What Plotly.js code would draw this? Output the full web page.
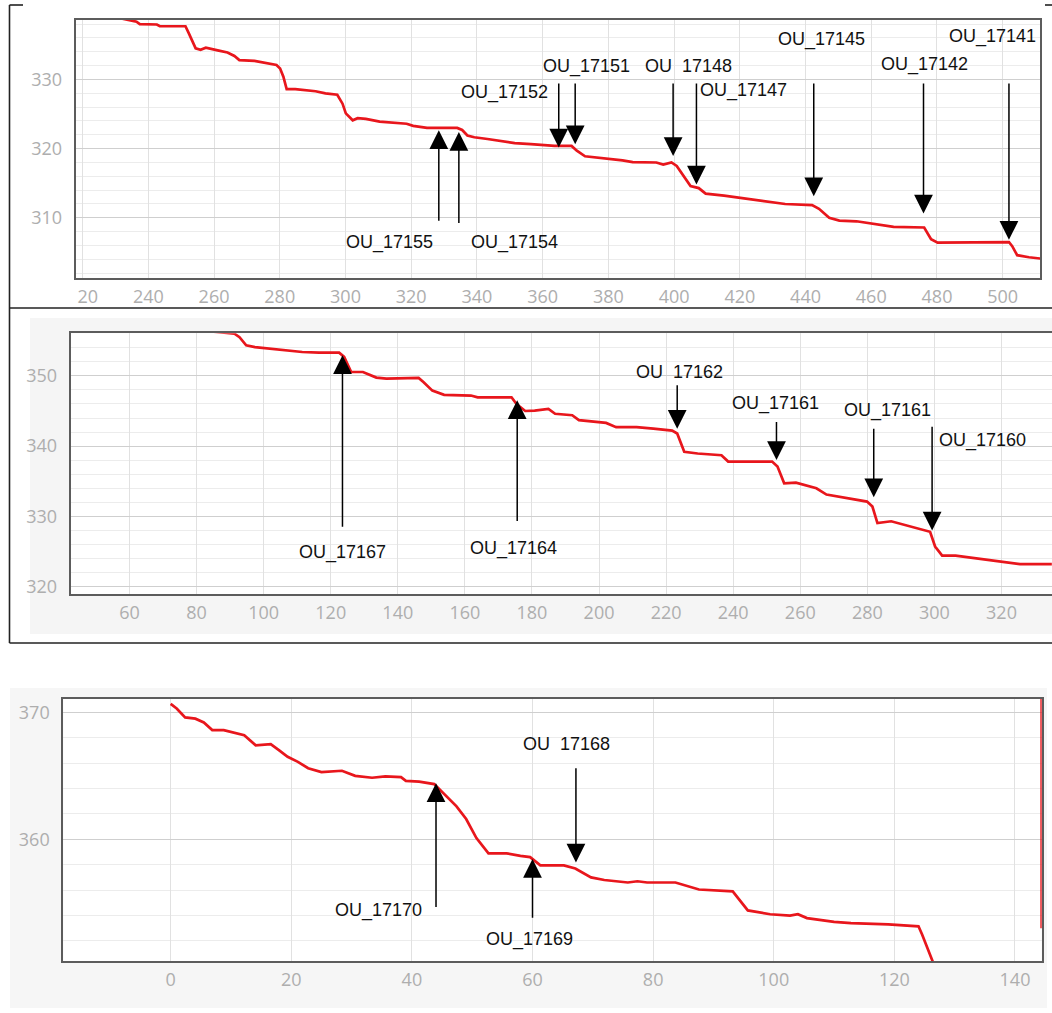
<!DOCTYPE html>
<html>
<head>
<meta charset="utf-8">
<script src="https://cdn.plot.ly/plotly-3.0.1.min.js"></script>
<style>html,body{margin:0;padding:0;background:#fff;}#chart{width:1052px;height:1013px;}</style>
</head>
<body>
<div id="chart"></div>
<script>
// ---------- Panel 1 (top) ----------
const p1X = [230.0, 236.4, 237.4, 242.6, 243.5, 251.3, 252.3, 254.4, 255.9, 257.5, 261.1, 264.1, 266.2, 267.7, 272.3, 276.4, 279.0, 280.1, 281.1, 282.1, 284.7, 290.9, 293.9, 297.5, 298.0, 299.1, 300.1, 302.2, 303.7, 306.2, 310.4, 314.5, 318.6, 320.6, 324.8, 334.0, 335.5, 337.1, 339.2, 343.2, 347.4, 351.5, 356.4, 363.6, 368.8, 370.4, 372.9, 377.0, 384.3, 387.4, 394.6, 396.7, 399.2, 400.8, 402.9, 405.0, 407.5, 409.6, 415.2, 425.5, 433.8, 442.0, 444.1, 447.2, 450.3, 455.5, 460.6, 466.8, 476.1, 478.2, 480.2, 487.4, 501.9, 502.9, 504.4, 508.0, 511.7];
const p1Y = [339.0, 338.36, 338.0, 337.95, 337.7, 337.7, 336.7, 334.5, 334.3, 334.6, 334.2, 333.9, 333.4, 332.8, 332.7, 332.3, 332.1, 331.6, 330.4, 328.6, 328.6, 328.3, 328.0, 327.8, 327.4, 326.5, 325.1, 324.1, 324.4, 324.3, 323.9, 323.8, 323.6, 323.3, 323.0, 323.0, 322.7, 321.9, 321.65, 321.4, 321.1, 320.8, 320.65, 320.4, 320.4, 319.7, 318.9, 318.7, 318.3, 318.05, 318.0, 317.7, 318.0, 317.5, 316.0, 314.6, 314.3, 313.5, 313.2, 312.5, 312.0, 311.85, 311.3, 310.0, 309.6, 309.5, 309.1, 308.7, 308.6, 306.9, 306.4, 306.4, 306.5, 305.9, 304.6, 304.3, 304.1];
const p1Labels = ["OU_17155", "OU_17154", "OU_17152", "OU_17151", "OU\u00a0\u00a017148", "OU_17147", "OU_17145", "OU_17142", "OU_17141"];
const p1ArrowX = [328.4, 334.5, 364.9, 369.9, 399.7, 406.8, 442.5, 475.9, 501.9];
const p1ArrowTip = [322.66, 322.42, 320.16, 320.63, 318.94, 314.83, 313.12, 310.62, 306.82];
const p1ArrowTail = [309.36, 309.05, 329.64, 329.64, 329.64, 329.64, 329.64, 329.64, 329.64];
const p1TextX = [313.5, 351.5, 348.3, 373.4, 404.4, 421.0, 444.9, 476.1, 496.8];
const p1TextY = [306.4, 306.4, 328.16, 331.9, 331.9, 328.4, 335.78, 332.14, 336.17];

// ---------- Panel 2 (middle) ----------
const p2X = [85.0, 91.3, 92.8, 94.8, 97.4, 101.4, 106.4, 111.5, 116.5, 122.5, 124.0, 126.1, 129.6, 133.6, 136.6, 141.7, 146.2, 147.7, 150.3, 153.8, 161.8, 163.8, 173.9, 175.4, 178.0, 180.8, 184.9, 186.9, 192.0, 194.0, 202.1, 205.1, 211.2, 216.2, 221.8, 223.3, 225.4, 229.4, 236.5, 238.5, 251.6, 253.2, 255.2, 258.7, 264.8, 267.8, 276.9, 279.9, 281.5, 283.0, 287.1, 295.2, 298.7, 300.2, 302.3, 306.3, 317.4, 325.5, 335.0];
const p2Y = [356.3, 356.0, 355.5, 354.35, 354.1, 353.9, 353.65, 353.4, 353.3, 353.3, 352.7, 350.55, 350.55, 349.75, 349.6, 349.6, 349.7, 349.1, 347.9, 347.3, 347.2, 346.95, 346.95, 345.97, 345.0, 345.06, 345.3, 344.6, 344.4, 343.7, 343.3, 342.7, 342.7, 342.5, 342.2, 341.8, 339.2, 338.95, 338.7, 337.8, 337.8, 337.1, 334.7, 334.8, 334.0, 333.1, 332.4, 332.1, 331.4, 329.04, 329.3, 328.3, 327.8, 325.7, 324.4, 324.4, 323.7, 323.2, 323.2];
const p2Labels = ["OU_17167", "OU_17164", "OU\u00a0\u00a017162", "OU_17161", "OU_17161", "OU_17160"];
const p2ArrowX = [123.5, 175.6, 223.3, 252.9, 281.9, 299.3];
const p2ArrowTip = [352.92, 346.54, 342.46, 338.03, 332.72, 327.99];
const p2ArrowTail = [328.32, 329.14, 348.86, 343.66, 342.68, 342.96];
const p2TextX = [123.5, 174.5, 224.1, 252.7, 286.1, 314.4];
const p2TextY = [324.92, 325.48, 350.61, 346.04, 345.06, 340.79];

// ---------- Panel 3 (bottom) ----------
const p3X = [0, 1.0, 2.4, 4.1, 5.5, 6.9, 8.8, 11.1, 12.2, 14.1, 16.6, 18.0, 19.4, 21.1, 22.8, 25.0, 28.4, 30.6, 33.4, 35.6, 38.2, 39.0, 41.2, 43.7, 45.1, 47.4, 49.0, 50.7, 52.7, 55.7, 58.0, 59.6, 61.3, 65.2, 67.1, 69.7, 71.9, 75.8, 77.4, 79.0, 83.7, 87.6, 93.2, 95.7, 99.4, 102.7, 104.0, 105.5, 110.0, 112.8, 119.0, 124.0, 124.6, 126.3, 127.5];
const p3Y = [370.66, 370.3, 369.6, 369.5, 369.2, 368.6, 368.6, 368.3, 368.2, 367.4, 367.5, 367.0, 366.5, 366.1, 365.6, 365.3, 365.4, 365.0, 364.85, 364.95, 364.9, 364.6, 364.55, 364.35, 363.7, 362.6, 361.6, 360.1, 358.9, 358.9, 358.7, 358.6, 357.95, 357.95, 357.7, 357.0, 356.8, 356.6, 356.7, 356.6, 356.6, 356.05, 355.9, 354.4, 354.1, 354.0, 354.1, 353.8, 353.5, 353.4, 353.3, 353.15, 352.5, 350.5, 349.0];
const p3EdgeX = [144.4, 144.4];
const p3EdgeY = [371.5, 353.0];
const p3Labels = ["OU_17170", "OU_17169", "OU\u00a0\u00a017168"];
const p3ArrowX = [44.0, 60.0, 67.2];
const p3ArrowTip = [364.41, 358.45, 358.18];
const p3ArrowTail = [354.56, 353.71, 365.71];
const p3TextX = [34.5, 59.5, 65.7];
const p3TextY = [354.43, 352.13, 367.54];

// ---------- helpers ----------
const W = 1052, H = 1013;
const fx = p => p / W;
const fy = p => 1 - p / H;
const RED = '#e8161c';
const tickFont = {family: 'Open Sans, DejaVu Sans, sans-serif', size: 18, color: '#aeaeae'};
const annFont = {family: 'Liberation Sans, Arial, sans-serif', size: 18, color: '#111'};

function xAxis(dom, range, anchor, mirror) {
  return {
    domain: dom, range: range, anchor: anchor, dtick: 20, tick0: 0,
    showgrid: true, gridcolor: '#e1e1e1', gridwidth: 1, zeroline: false,
    showline: true, linecolor: '#5c5c5c', linewidth: 2, mirror: mirror,
    ticks: '', tickfont: tickFont, ticklabelstandoff: 1, fixedrange: true
  };
}
function yAxis(dom, range, anchor, mirror) {
  return {
    domain: dom, range: range, anchor: anchor, dtick: 10, tick0: 0,
    showgrid: true, gridcolor: '#cfcfcf', gridwidth: 1, zeroline: false,
    minor: {dtick: 2, showgrid: true, gridcolor: '#ececec', gridwidth: 1},
    showline: true, linecolor: '#5c5c5c', linewidth: 2, mirror: mirror,
    ticks: '', tickfont: tickFont, ticklabelstandoff: 8, fixedrange: true
  };
}

const lineStyle = {color: RED, width: 2.7, shape: 'linear'};
const traces = [
  {x: p1X, y: p1Y, xaxis: 'x', yaxis: 'y', type: 'scatter', mode: 'lines', line: lineStyle, hoverinfo: 'skip'},
  {x: p2X, y: p2Y, xaxis: 'x2', yaxis: 'y2', type: 'scatter', mode: 'lines', line: lineStyle, hoverinfo: 'skip'},
  {x: p3X, y: p3Y, xaxis: 'x3', yaxis: 'y3', type: 'scatter', mode: 'lines', line: lineStyle, hoverinfo: 'skip'}
];

const annotations = [];
function addAnns(labels, ax, tip, tail, tx, ty, xr, yr) {
  for (let i = 0; i < labels.length; i++) {
    annotations.push({
      xref: xr, yref: yr, axref: xr, ayref: yr,
      x: ax[i], y: tip[i], ax: ax[i], ay: tail[i],
      text: '', showarrow: true, arrowhead: 2, arrowsize: 2.5, arrowwidth: 1.5,
      arrowcolor: '#000', standoff: 0, startstandoff: 0
    });
    annotations.push({
      xref: xr, yref: yr, x: tx[i], y: ty[i], text: labels[i], showarrow: false,
      font: annFont, xanchor: 'center', yanchor: 'middle'
    });
  }
}
addAnns(p1Labels, p1ArrowX, p1ArrowTip, p1ArrowTail, p1TextX, p1TextY, 'x', 'y');
addAnns(p2Labels, p2ArrowX, p2ArrowTip, p2ArrowTail, p2TextX, p2TextY, 'x2', 'y2');
addAnns(p3Labels, p3ArrowX, p3ArrowTip, p3ArrowTail, p3TextX, p3TextY, 'x3', 'y3');

function pline(x0, y0, x1, y1, w, c) {
  return {type: 'line', xref: 'paper', yref: 'paper', x0: fx(x0), y0: fy(y0), x1: fx(x1), y1: fy(y1),
          line: {color: c || '#222', width: w || 1.5}, layer: 'above'};
}
function prect(x0, y0, x1, y1, fill, layer) {
  return {type: 'rect', xref: 'paper', yref: 'paper', x0: fx(x0), y0: fy(y0), x1: fx(x1), y1: fy(y1),
          line: {width: 0}, fillcolor: fill, layer: layer || 'below'};
}

const P1 = {x0: 75.7, x1: 1040, y0: 20, y1: 278};
const P2 = {x0: 70.7, x1: 1052, y0: 333.3, y1: 594.3};
const P3 = {x0: 63.3, x1: 1041.7, y0: 699, y1: 961};

const shapes = [
  prect(30, 318, 1052, 634, '#f5f5f5'),
  prect(10, 688, 1047, 1008, '#f6f6f6'),
  prect(P1.x0, P1.y0, P1.x1, P1.y1, '#ffffff'),
  prect(P2.x0, P2.y0, P2.x1, P2.y1, '#ffffff'),
  prect(P3.x0, P3.y0, P3.x1, P3.y1, '#ffffff'),
  // hide the clipped first digit of the first tick label in the top panel
  prect(12, 284, 77, 303, '#ffffff', 'above'),
  // outer frames
  pline(9.5, 5, 9.5, 643, 1.6),
  pline(9.5, 5, 23, 5, 1.6),
  pline(1045, 5, 1052, 5, 1.6),
  pline(9.5, 308, 1052, 308, 1.6),
  pline(9.5, 643, 1052, 643, 1.6),
  // vertical red segment at the right edge of the bottom panel (from data arrays)
  {type: 'line', xref: 'x3', yref: 'y3', x0: p3EdgeX[0], y0: p3EdgeY[0], x1: p3EdgeX[1], y1: p3EdgeY[1],
   line: {color: RED, width: 2.4}, layer: 'above'}
];

const layout = {
  width: W, height: H,
  margin: {l: 0, r: 0, t: 0, b: 0},
  paper_bgcolor: '#ffffff', plot_bgcolor: 'rgba(0,0,0,0)',
  showlegend: false,
  xaxis: xAxis([fx(P1.x0), fx(P1.x1)], [217.9, 511.35], 'y', true),
  yaxis: yAxis([fy(P1.y1), fy(P1.y0)], [301.3, 338.6], 'x', true),
  xaxis2: xAxis([fx(P2.x0), 1], [42.47, 335.05], 'y2', true),
  yaxis2: yAxis([fy(P2.y1), fy(P2.y0)], [318.9, 356.06], 'x2', false),
  xaxis3: xAxis([fx(P3.x0), fx(P3.x1)], [-17.8, 144.43], 'y3', true),
  yaxis3: yAxis([fy(P3.y1), fy(P3.y0)], [350.42, 371.05], 'x3', true),
  annotations: annotations,
  shapes: shapes
};

Plotly.newPlot('chart', traces, layout, {staticPlot: true, displayModeBar: false});
</script>
</body>
</html>
